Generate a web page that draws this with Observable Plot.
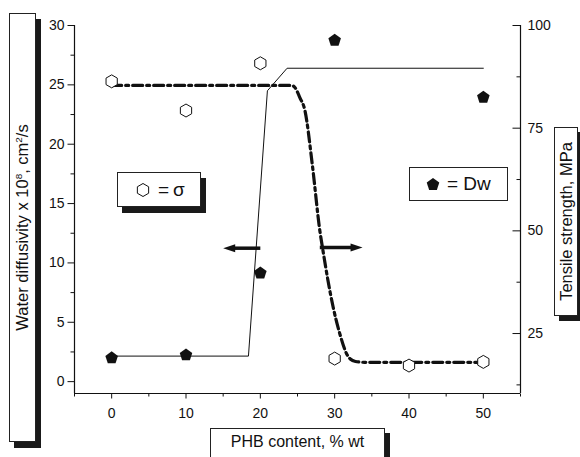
<!DOCTYPE html>
<html><head><meta charset="utf-8">
<script src="https://cdn.jsdelivr.net/npm/d3@7"></script>
<script src="https://cdn.jsdelivr.net/npm/@observablehq/plot@0.6"></script>
<style>
body{margin:0;background:#fff;}
#wrap{position:relative;width:580px;height:457px;overflow:hidden;font-family:"Liberation Sans",Arial,sans-serif;color:#111;background:#fff;}
#chart{position:absolute;left:0;top:0;}
.box{position:absolute;background:#fff;border:1px solid #222;box-sizing:border-box;display:flex;align-items:center;justify-content:center;}
.rot{transform:rotate(-90deg);white-space:nowrap;}
sup{font-size:0.6em;vertical-align:0.55em;line-height:0;}
</style></head><body>
<div id="wrap">
  <div id="chart"></div>
  <div class="box" style="left:9px;top:13px;width:27px;height:429px;box-shadow:5px 6px 0 #1a1a1a;"><span class="rot" style="font-size:16.5px;">Water diffusivity x 10<sup>8</sup>, cm<sup>2</sup>/s</span></div>
  <div class="box" style="left:554px;top:127px;width:24px;height:189px;box-shadow:5px 5px 0 #1a1a1a;"><span class="rot" style="font-size:16.5px;">Tensile strength, MPa</span></div>
  <div class="box" style="left:210px;top:428px;width:175px;height:40px;box-shadow:5px 5px 0 #1a1a1a;align-items:flex-start;padding-top:4px;"><span style="font-size:16px;">PHB content, % wt</span></div>
  <div class="box" style="left:117px;top:172px;width:84px;height:35px;box-shadow:5px 6px 0 #1a1a1a;justify-content:flex-start;">
    <svg width="14" height="16" style="margin-left:18px" viewBox="-7 -8 14 16"><path id="hexLeg" fill="none" stroke="#111" stroke-width="1"/></svg>
    <span style="font-size:19px;margin-left:8px;">=&#8201;σ</span>
  </div>
  <div class="box" style="left:409px;top:167px;width:99px;height:34px;justify-content:flex-start;">
    <svg width="16" height="16" style="margin-left:15px" viewBox="-8 -8 16 16"><path id="pentLeg" fill="#111"/></svg>
    <span style="font-size:19px;margin-left:6px;">= Dw</span>
  </div>
</div>
<script>
// ---- data ----
const xMajor = [0, 10, 20, 30, 40, 50];
const xMinor = [-5, 5, 15, 25, 35, 45, 55];
const yMajor = [0, 5, 10, 15, 20, 25, 30];
const yMinor = [2.5, 7.5, 12.5, 17.5, 22.5, 27.5];
const rMajor = [25, 50, 75, 100];
const rMinor = [12.5, 37.5, 62.5, 87.5];

// water diffusivity (left axis), filled pentagons
const dwX = [0, 10, 20, 30, 50];
const dwY = [2.05, 2.3, 9.2, 28.8, 24.0];
// tensile strength (right axis), open hexagons
const sigX = [0, 10, 20, 30, 40, 50];
const sigY = [86.4, 79.3, 90.8, 18.9, 17.2, 18.1];

// solid fit line for Dw (left axis)
const dwFitX = [0, 18.4, 20.95, 23.6, 50];
const dwFitY = [2.15, 2.15, 24.5, 26.4, 26.4];
// dash-dot fit line for sigma (right axis)
const sigFitX = [0, 24.2, 24.7, 25.3, 26.0, 27.0, 28.0, 28.5, 29.1, 29.8, 30.7, 31.6, 32.1, 32.8, 34, 50];
const sigFitY = [85.4, 85.4, 84.8, 82.5, 79.3, 66, 50.1, 44.4, 37.9, 31.4, 24.9, 20.1, 18.8, 18.2, 18.0, 18.0];

// direction arrows (left axis units)
const arrowX1 = [20, 28];
const arrowX2 = [15, 33.75];
const arrowY = [11.24, 11.3];

// ---- scales ----
const L0 = -1, L1 = 30, R0 = 10.4, R1 = 100, XL = -5, XR = 55;
const toLeft = r => L0 + (r - R0) * (L1 - L0) / (R1 - R0);

const poly = (n, rot, dy) => ({draw(ctx, size) {
  const R = Math.sqrt(size / Math.PI);
  for (let i = 0; i < n; i++) {
    const a = rot + i * 2 * Math.PI / n;
    const px = R * Math.cos(a), py = R * Math.sin(a) + R * dy;
    i ? ctx.lineTo(px, py) : ctx.moveTo(px, py);
  }
  ctx.closePath();
}});
const pentagon = poly(5, -Math.PI / 2, 0.1);
const hexagon = poly(6, -Math.PI / 2, 0);
const headRight = {draw(ctx) { ctx.moveTo(0, 0); ctx.lineTo(-12, -4); ctx.lineTo(-12, 4); ctx.closePath(); }};
const headLeft = {draw(ctx) { ctx.moveTo(0, 0); ctx.lineTo(12, -4); ctx.lineTo(12, 4); ctx.closePath(); }};
const tick = (dx, dy) => ({draw(ctx) { ctx.moveTo(0, 0); ctx.lineTo(dx, dy); }});

const dwData = dwX.map((x, i) => ({x, y: dwY[i]}));
const sigData = sigX.map((x, i) => ({x, y: sigY[i]}));
const dwFit = dwFitX.map((x, i) => ({x, y: dwFitY[i]}));
const sigFit = sigFitX.map((x, i) => ({x, y: sigFitY[i]}));
const arrowsL = arrowX1.map((x1, i) => ({x1, x2: arrowX2[i], y: arrowY[i]})).filter(d => d.x2 < d.x1);
const arrowsR = arrowX1.map((x1, i) => ({x1, x2: arrowX2[i], y: arrowY[i]})).filter(d => d.x2 > d.x1);

const ink = "#111";
const tk = (data, x, y, sym) => Plot.dot(data, {x, y, symbol: sym, r: 1, fill: "none", stroke: ink, strokeWidth: 1});
const chart = Plot.plot({
  width: 580, height: 457,
  marginTop: 25, marginRight: 60, marginBottom: 64, marginLeft: 74,
  x: {domain: [XL, XR], axis: null},
  y: {domain: [L0, L1], axis: null},
  style: {fontFamily: "'Liberation Sans', Arial, sans-serif", fontSize: "14px", color: ink, background: "white"},
  marks: [
    Plot.ruleX([XL, XR], {stroke: ink, strokeWidth: 1.2}),
    Plot.ruleY([L0], {stroke: ink, strokeWidth: 1.2}),
    // x axis
    tk(xMajor, d => d, () => L0, tick(0, 5)),
    tk(xMinor, d => d, () => L0, tick(0, 3)),
    Plot.text(xMajor, {x: d => d, y: () => L0, dy: 20, text: d => String(d), fontSize: 14, fill: ink}),
    // left axis
    tk(yMajor, () => XL, d => d, tick(-7, 0)),
    tk(yMinor, () => XL, d => d, tick(-4, 0)),
    Plot.text(yMajor, {x: () => XL, y: d => d, dx: -10, textAnchor: "end", text: d => String(d), fontSize: 14, fill: ink}),
    // right axis (ticks inward)
    tk(rMajor, () => XR, d => toLeft(d), tick(-8, 0)),
    tk(rMinor, () => XR, d => toLeft(d), tick(-4, 0)),
    Plot.text(rMajor, {x: () => XR, y: d => toLeft(d), dx: 7, textAnchor: "start", text: d => String(d), fontSize: 14, fill: ink}),
    // fits
    Plot.line(dwFit, {x: "x", y: "y", stroke: ink, strokeWidth: 1}),
    Plot.line(sigFit, {x: "x", y: d => toLeft(d.y), stroke: ink, strokeWidth: 3.2, strokeDasharray: "10,4,3,4", curve: "monotone-x"}),
    // arrows
    Plot.link(arrowsL, {x1: "x1", x2: d => d.x2 + 1, y1: "y", y2: "y", stroke: ink, strokeWidth: 3.5}),
    Plot.link(arrowsR, {x1: "x1", x2: d => d.x2 - 1, y1: "y", y2: "y", stroke: ink, strokeWidth: 3.5}),
    Plot.dot(arrowsL, {x: "x2", y: "y", symbol: headLeft, r: 4, fill: ink, stroke: "none"}),
    Plot.dot(arrowsR, {x: "x2", y: "y", symbol: headRight, r: 4, fill: ink, stroke: "none"}),
    // points
    Plot.dot(sigData, {x: "x", y: d => toLeft(d.y), symbol: hexagon, r: 6.5, fill: "white", stroke: ink, strokeWidth: 1}),
    Plot.dot(dwData, {x: "x", y: "y", symbol: pentagon, r: 6.6, fill: ink, stroke: "none"})
  ]
});
document.getElementById("chart").appendChild(chart);
// legend symbols
const pth = (sym, size) => { const p = d3.path(); sym.draw(p, size); return p.toString(); };
document.getElementById("hexLeg").setAttribute("d", pth(hexagon, Math.PI * 6.5 * 6.5));
document.getElementById("pentLeg").setAttribute("d", pth(pentagon, Math.PI * 6.6 * 6.6));
</script></body></html>
